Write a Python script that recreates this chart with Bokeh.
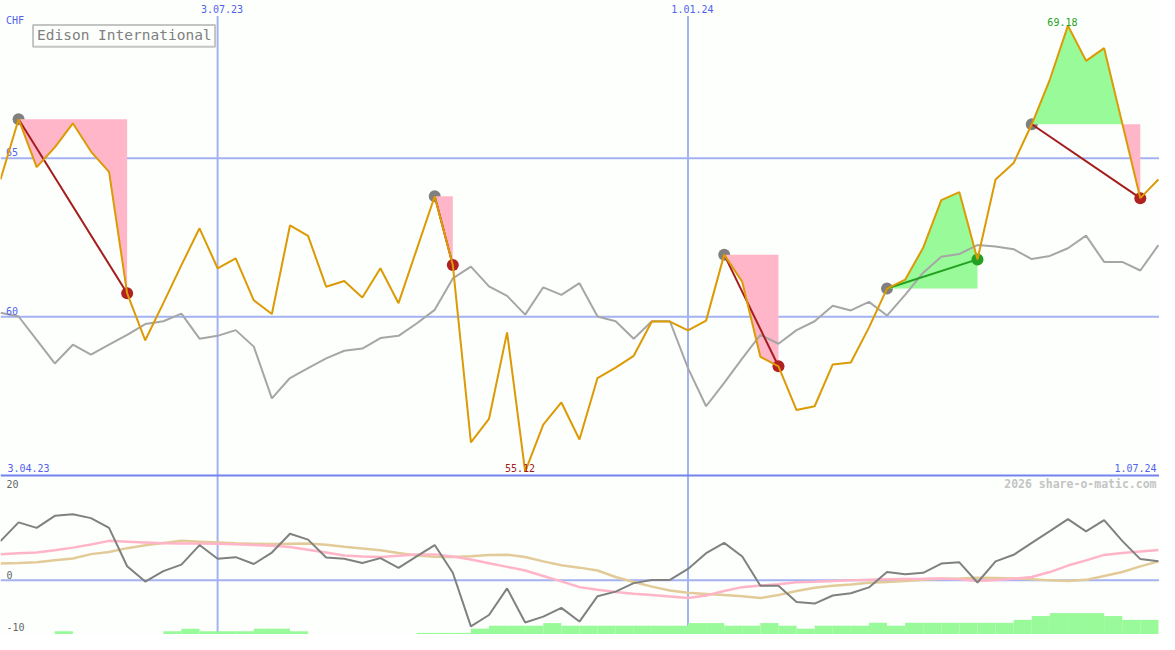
import numpy as np
import pandas as pd
from bokeh.plotting import figure
from bokeh.models import Range1d
from bokeh.core.properties import value
from bokeh.embed import file_html
from bokeh.resources import INLINE

# ---------------- data ----------------
dates = pd.date_range("2023-04-10", periods=65, freq="7D")

close = [64.33, 66.23, 64.72, 65.34, 66.10, 65.21, 64.57, 60.74, 59.26, 60.43,
         61.63, 62.79, 61.53, 61.84, 60.52, 60.09, 62.88, 62.55, 60.95, 61.13,
         60.61, 61.53, 60.43, 62.12, 63.80, 61.63, 56.04, 56.78, 59.51, 55.12,
         56.60, 57.30, 56.13, 58.07, 58.40, 58.77, 59.85, 59.85, 59.57, 59.88,
         61.96, 61.10, 58.74, 58.44, 57.06, 57.18, 58.50, 58.56, 59.66, 60.89,
         61.17, 62.18, 63.68, 63.93, 61.81, 64.33, 64.85, 66.07, 67.48, 69.18,
         68.07, 68.47, 66.10, 63.74, 64.33]

bench = [60.13, 60.01, 59.27, 58.53, 59.12, 58.81, 59.12, 59.43, 59.77, 59.86,
         60.10, 59.31, 59.40, 59.58, 59.06, 57.43, 58.07, 58.38, 58.69, 58.93,
         59.00, 59.33, 59.40, 59.79, 60.22, 61.21, 61.58, 60.96, 60.66, 60.07,
         60.93, 60.69, 61.06, 60.01, 59.86, 59.31, 59.86, 59.86, 58.38, 57.18,
         57.92, 58.69, 59.43, 59.15, 59.58, 59.86, 60.35, 60.20, 60.47, 60.04,
         60.69, 61.39, 61.89, 61.98, 62.26, 62.22, 62.13, 61.82, 61.92, 62.16,
         62.56, 61.73, 61.73, 61.46, 62.26]

osc = [7.54, 11.16, 10.09, 12.42, 12.72, 11.97, 10.09, 2.72, -0.23, 1.78,
       3.04, 6.79, 4.17, 4.47, 3.15, 5.35, 8.97, 7.84, 4.41, 4.17,
       3.34, 4.28, 2.40, 4.60, 6.79, 1.46, -8.86, -6.66, -1.54, -8.11,
       -6.98, -5.29, -7.92, -3.04, -2.16, -0.53, 0.09, 0.09, 2.21, 5.22,
       7.22, 4.60, -1.03, -1.03, -4.17, -4.47, -2.91, -2.48, -1.35, 1.59,
       1.16, 1.46, 3.23, 3.47, -0.41, 3.66, 4.92, 7.22, 9.47, 11.78,
       9.42, 11.59, 7.60, 4.09, 3.66]

osc_fast = [5.03, 5.2, 5.35, 5.8, 6.3, 6.9, 7.6, 7.45, 7.3, 7.15,
            7.1, 7.1, 7.05, 6.95, 6.8, 6.65, 6.4, 5.9, 5.35, 4.8,
            4.6, 4.5, 4.75, 5.0, 5.0, 4.6, 4.0, 3.3, 2.6, 1.9,
            0.85, -0.2, -1.3, -1.8, -2.25, -2.55, -2.8, -3.1, -3.4, -2.9,
            -2.05, -1.3, -1.0, -0.75, -0.35, -0.25, -0.1, 0.0, 0.13, 0.22,
            0.28, 0.32, 0.38, 0.2, -0.1, 0.05, 0.3, 0.65, 1.6, 2.85,
            3.85, 4.9, 5.25, 5.55, 5.85]

osc_slow = [3.23, 3.35, 3.5, 3.85, 4.2, 5.05, 5.45, 6.2, 6.75, 7.2,
            7.6, 7.45, 7.3, 7.15, 7.05, 7.0, 7.05, 7.1, 6.85, 6.45,
            6.15, 5.8, 5.25, 4.8, 4.55, 4.5, 4.65, 4.9, 4.95, 4.5,
            3.65, 2.9, 2.45, 1.9, 0.65, -0.3, -1.2, -1.95, -2.4, -2.6,
            -2.8, -3.05, -3.4, -2.8, -2.05, -1.4, -1.05, -0.8, -0.45, -0.3,
            -0.1, 0.1, 0.3, 0.38, 0.5, 0.45, 0.38, 0.2, 0.0, -0.1,
            0.1, 0.85, 1.6, 2.7, 3.65]

volume = [0, 0, 0, 1.1, 0, 0, 0, 0, 0, 1.1,
          2, 1.1, 1.1, 1.1, 2, 2, 1.1, 0, 0, 0,
          0, 0, 0, 0.55, 0.55, 0.55, 2, 3, 3, 3,
          3.9, 3, 3, 3, 3, 3, 3, 3, 3.9, 3.9,
          3, 3, 3.9, 3, 2, 3, 3, 3, 4, 3,
          4, 4, 4, 4, 4, 4, 5, 6.3, 7.3, 7.3,
          7.3, 6.3, 5, 5]

trade_start = [1, 24, 40, 49, 57]
trade_end = [7, 25, 43, 54, 63]

price_grid = [65, 60]
date_marks = ["2023-07-03", "2024-01-01"]
date_mark_labels = ["3.07.23", "1.01.24"]
first_label, last_label = "3.04.23", "1.07.24"
osc_zero = 0
osc_tick_labels = ["20", "0", "-10"]
currency = "CHF"
title = "Edison International"
credit = "2026 share-o-matic.com"

# ---------------- layout helpers ----------------
W, H = 1159, 634
REF_W, REF_H = 1175, 650
WEEK = 7 * 86400000.0
x = dates.values.astype("datetime64[ms]").astype("int64").astype(float)
X0 = x[0]
PX_PER_WEEK = 18.342            # reference pixels per week
Y_TOP, PX_PER_CHF = 69.972, 32.52
OSC_TOP, PX_PER_OSC = 111.54, 5.33


def xref(px):
    return X0 + px / PX_PER_WEEK * WEEK


def yref(px):
    return Y_TOP - px / PX_PER_CHF


def xoff(px):
    return px * W / REF_W


BG = "#fcfffc"
GRID = "#a4b2f2"
SEP = "#7383ee"
BLUE_TXT = "#5262ee"
MONO = value("DejaVu Sans Mono")
PINK = "#ffb6c8"
GREEN = "#98fa98"
LOSS = "#a41c1c"
LOSS_DOT = "#b02222"
WIN = "#22a022"

p = figure(width=W, height=H, output_backend="svg", toolbar_location=None,
           x_range=Range1d(X0, X0 + REF_W / PX_PER_WEEK * WEEK),
           y_range=Range1d(yref(REF_H), Y_TOP),
           min_border=0, background_fill_color=BG, border_fill_color=BG,
           outline_line_color=None)
p.axis.visible = False
p.grid.visible = False
p.extra_y_ranges = {
    "osc": Range1d(OSC_TOP - REF_H / PX_PER_OSC, OSC_TOP),
    "vol": Range1d(0, REF_H / 3.0),
}


def label(xv, ypx, txt, size="10px", color=BLUE_TXT, align="left", dx=0, bold=False):
    p.text(x=[xv], y=[yref(ypx)], text=[txt], x_offset=xoff(dx), text_font=MONO,
           text_font_size=size, text_color=color, text_align=align,
           text_baseline="middle", text_font_style="bold" if bold else "normal")


# grid
for g in price_grid:
    p.segment(x0=xref(0), x1=xref(REF_W), y0=g, y1=g, line_color=GRID, line_width=2)
p.segment(x0=xref(0), x1=xref(REF_W), y0=osc_zero, y1=osc_zero, line_color=GRID,
          line_width=2, y_range_name="osc")
for d in date_marks:
    xd = float(pd.Timestamp(d).value // 10**6)
    p.segment(x0=xd, x1=xd, y0=yref(16), y1=yref(REF_H), line_color=GRID, line_width=2)
p.segment(x0=xref(0), x1=xref(REF_W), y0=yref(487), y1=yref(487), line_color=SEP,
          line_width=2)

# volume bars
p.quad(left=x[:-1], right=x[1:], bottom=0, top=volume, fill_color=GREEN,
       line_color=None, y_range_name="vol")

# oscillators
p.line(x, osc_slow, line_color="#e2cb98", line_width=2.5, y_range_name="osc")
p.line(x, osc_fast, line_color="#ffb4c8", line_width=2.5, y_range_name="osc")
p.line(x, osc, line_color="#808080", line_width=2, y_range_name="osc")

close_a = np.array(close)
# start markers
p.scatter(x[trade_start], close_a[trade_start], size=12, fill_color="#808080",
          line_color=None)

# fills for each trade
for s, e in zip(trade_start, trade_end):
    lvl = close[s]
    xs, ys = [x[s]], [close[s]]
    for k in range(s, e):
        a, b = close[k] - lvl, close[k + 1] - lvl
        if a * b < 0:
            t = a / (a - b)
            xs.append(x[k] + t * (x[k + 1] - x[k]))
            ys.append(lvl)
        xs.append(x[k + 1])
        ys.append(close[k + 1])
    xs, ys = np.array(xs), np.array(ys)
    base = np.full(len(xs), lvl)
    p.varea(x=xs, y1=base, y2=np.minimum(ys, lvl), fill_color=PINK)
    p.varea(x=xs, y1=base, y2=np.maximum(ys, lvl), fill_color=GREEN)

# benchmark
p.line(x, bench, line_color="#a6a6a6", line_width=2)

# trade lines and end markers
for s, e in zip(trade_start, trade_end):
    win = close[e] > close[s]
    p.line([x[s], x[e]], [close[s], close[e]], line_color=WIN if win else LOSS,
           line_width=2)
for s, e in zip(trade_start, trade_end):
    win = close[e] > close[s]
    p.scatter([x[e]], [close[e]], size=12, fill_color=WIN if win else LOSS_DOT,
              line_color=None)

# price labels under the price line
for g in price_grid:
    p.text(x=[xref(5.5)], y=[g + 5.9 / PX_PER_CHF], text=[str(g)], text_font=MONO,
           text_font_size="10px", text_color=BLUE_TXT, text_baseline="middle")

# price line
p.line(x, close, line_color="#dc9a04", line_width=2)

# min / max labels
imin, imax = int(np.argmin(close_a)), int(np.argmax(close_a))
for i, col, dx in [(imin, LOSS, -5.3), (imax, WIN, -5.6)]:
    p.text(x=[x[i]], y=[close[i] + 4.15 / PX_PER_CHF], text=[f"{close[i]:.2f}"],
           x_offset=xoff(dx), text_font=MONO, text_font_size="10px", text_color=col,
           text_align="center", text_baseline="middle")

# date labels
for d, lab in zip(date_marks, date_mark_labels):
    xd = float(pd.Timestamp(d).value // 10**6)
    label(xd, 8.85, lab, align="center", dx=4.5)
label(xref(7), 478.85, first_label)
label(xref(1172), 478.85, last_label, align="right")
label(xref(5.5), 20.85, currency)
label(xref(1172), 495.85, credit, size="11.5px", color="#c4c4c4", align="right",
      bold=True)

# oscillator tick labels
for lab, ypx in zip(osc_tick_labels, [495.85, 589.0, 642.35]):
    label(xref(6), ypx, lab, color="#666666")

# title box
p.quad(left=xref(33), right=xref(217.5), top=yref(25), bottom=yref(47.5),
       fill_color=BG, line_color="#c4c4c4", line_width=2)
label(xref(37), 35.85, title, size="14.5px", color="#808080")

open("out.html", "w").write(file_html(p, INLINE))
